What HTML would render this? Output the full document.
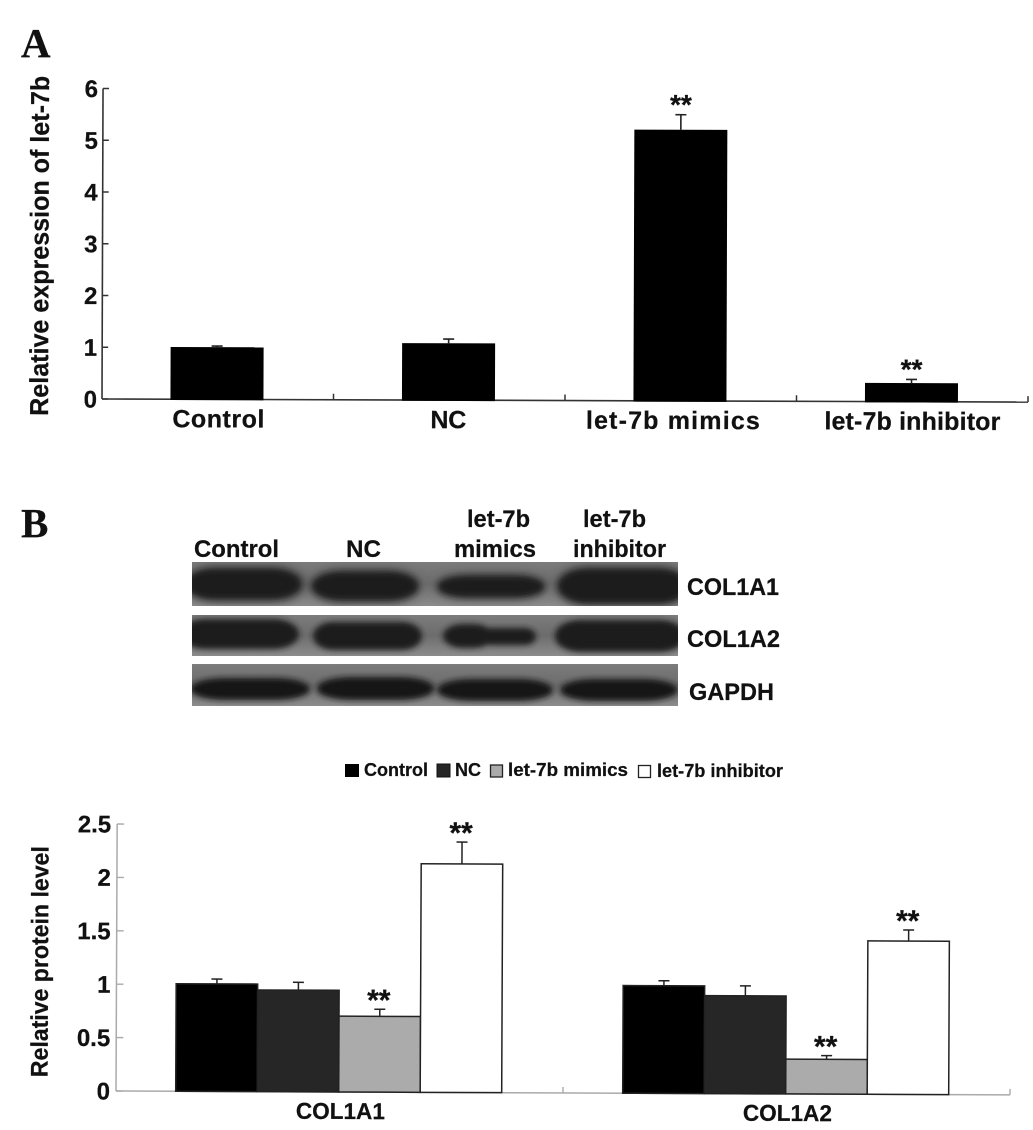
<!DOCTYPE html>
<html lang="en">
<head>
<meta charset="utf-8">
<title>let-7b expression and collagen protein levels</title>
<style>
html,body{margin:0;padding:0;background:#fff;}
svg{display:block;}
text{font-family:"Liberation Sans",Arial,sans-serif;font-weight:bold;fill:#111;stroke:#111;stroke-width:.25px;}
.serif{font-family:"Liberation Serif","Times New Roman",serif;}
</style>
</head>
<body>
<svg id="fig" xmlns="http://www.w3.org/2000/svg" width="1033" height="1130" viewBox="0 0 1033 1130">
  <defs>
    <filter id="blur" x="-10%" y="-40%" width="120%" height="180%"><feGaussianBlur stdDeviation="3"/></filter>
    <filter id="halo" x="-10%" y="-40%" width="120%" height="180%"><feGaussianBlur stdDeviation="5"/></filter>
    <linearGradient id="panelGrad" x1="0" y1="0" x2="0" y2="1">
      <stop offset="0" stop-color="#7c7c7c"/><stop offset="0.5" stop-color="#6c6c6c"/><stop offset="1" stop-color="#8c8c8c"/>
    </linearGradient>
    <clipPath id="clip1"><rect x="192" y="562" width="486" height="44"/></clipPath>
    <clipPath id="clip2"><rect x="192" y="615" width="486" height="41"/></clipPath>
    <clipPath id="clip3"><rect x="192" y="664" width="486" height="42"/></clipPath>
  </defs>

  <text class="serif" x="21" y="57" font-size="41">A</text>
  <text class="serif" x="21" y="537" font-size="41">B</text>

  <g id="chartA" transform="rotate(0.19 102 399)"></g>

  <g>
    <text x="194" y="557" font-size="24" textLength="85" lengthAdjust="spacingAndGlyphs">Control</text>
    <text x="346" y="557" font-size="24" textLength="35" lengthAdjust="spacingAndGlyphs">NC</text>
    <text x="467" y="527" font-size="24" textLength="63" lengthAdjust="spacingAndGlyphs">let-7b</text>
    <text x="454" y="557" font-size="24" textLength="82" lengthAdjust="spacingAndGlyphs">mimics</text>
    <text x="583" y="527" font-size="24" textLength="63" lengthAdjust="spacingAndGlyphs">let-7b</text>
    <text x="573" y="557" font-size="24" textLength="93" lengthAdjust="spacingAndGlyphs">inhibitor</text>

    <g>
      <rect x="192" y="562" width="486" height="44" fill="url(#panelGrad)"/>
      <g clip-path="url(#clip1)">
        <g filter="url(#halo)" fill="#4a4a4a">
          <rect x="185" y="566" width="120" height="36" rx="30" ry="18"/>
          <rect x="310" y="569" width="110" height="34" rx="30" ry="17"/>
          <rect x="436" y="574" width="110" height="25" rx="30" ry="12"/>
          <rect x="556" y="566" width="134" height="40" rx="30" ry="20"/>
        </g>
        <g filter="url(#blur)" fill="#1a1a1a">
          <rect x="185" y="569" width="116" height="30" rx="30" ry="15"/>
          <rect x="312" y="572" width="106" height="28" rx="30" ry="14"/>
          <rect x="438" y="576" width="106" height="21" rx="30" ry="10"/>
          <rect x="558" y="569" width="130" height="34" rx="30" ry="17"/>
        </g>
      </g>
    </g>
    <g>
      <rect x="192" y="615" width="486" height="41" fill="url(#panelGrad)"/>
      <g clip-path="url(#clip2)">
        <g filter="url(#blur)" fill="#1a1a1a">
          <rect x="180" y="619" width="119" height="30" rx="26" ry="15"/>
          <rect x="313" y="622" width="109" height="28" rx="20" ry="14"/>
          <rect x="443" y="624" width="50" height="24" rx="20" ry="12"/>
          <rect x="480" y="628" width="56" height="17" rx="12" ry="8"/>
          <rect x="555" y="620" width="130" height="32" rx="26" ry="15"/>
        </g>
      </g>
    </g>
    <g>
      <rect x="192" y="664" width="486" height="42" fill="url(#panelGrad)"/>
      <g clip-path="url(#clip3)"><g filter="url(#blur)" fill="#151515">
        <rect x="190" y="678" width="120" height="22" rx="34" ry="11"/>
        <rect x="317" y="677" width="117" height="23" rx="34" ry="11"/>
        <rect x="437" y="679" width="116" height="22" rx="34" ry="11"/>
        <rect x="560" y="679" width="118" height="22" rx="34" ry="11"/>
      </g></g>
    </g>
    <text x="687" y="595" font-size="24" textLength="92" lengthAdjust="spacingAndGlyphs">COL1A1</text>
    <text x="687" y="647" font-size="24" textLength="93" lengthAdjust="spacingAndGlyphs">COL1A2</text>
    <text x="689" y="700" font-size="24" textLength="85" lengthAdjust="spacingAndGlyphs">GAPDH</text>
  </g>

  <g>
    <rect x="345" y="764" width="14" height="13" fill="#000"/>
    <text x="364" y="776" font-size="18" textLength="64" lengthAdjust="spacingAndGlyphs">Control</text>
    <rect x="437" y="764" width="13" height="13" fill="#262626" stroke="#111"/>
    <text x="455" y="776" font-size="18" textLength="26" lengthAdjust="spacingAndGlyphs">NC</text>
    <rect x="490.5" y="765" width="12" height="12" fill="#ababab" stroke="#222" stroke-width="1.3"/>
    <text x="508" y="776" font-size="18" textLength="120" lengthAdjust="spacingAndGlyphs">let-7b mimics</text>
    <rect x="638.5" y="765.5" width="12" height="12" fill="#fff" stroke="#222" stroke-width="1.3"/>
    <text x="657" y="777" font-size="18" textLength="126" lengthAdjust="spacingAndGlyphs">let-7b inhibitor</text>
  </g>

  <g id="chartB" transform="rotate(0.25 116 1091)"></g>
</svg>

<script>
// Chart A data
const aCategories = ['Control', 'NC', 'let-7b mimics', 'let-7b inhibitor'];
const aValues = [1.01, 1.10, 5.24, 0.36];
const aErrors = [0.02, 0.08, 0.29, 0.07];
const aSignificant = [false, false, true, true];
const aTicks = [0, 1, 2, 3, 4, 5, 6];

// Chart B data
const bGroups = ['COL1A1', 'COL1A2'];
const bSeries = ['Control', 'NC', 'let-7b mimics', 'let-7b inhibitor'];
const bControl = [1.007, 1.008];
const bNC = [0.952, 0.917];
const bMimics = [0.71, 0.326];
const bInhibitor = [2.14, 1.436];
const bControlErr = [0.045, 0.047];
const bNCErr = [0.073, 0.093];
const bMimicsErr = [0.066, 0.034];
const bInhibitorErr = [0.205, 0.104];
const bSignificant = [false, false, true, true];
const bTicks = ['0', '0.5', '1', '1.5', '2', '2.5'];

const NS = 'http://www.w3.org/2000/svg';
function mk(parent, tag, attrs, txt) {
  const el = document.createElementNS(NS, tag);
  for (const k in attrs) el.setAttribute(k, attrs[k]);
  if (txt !== undefined) el.textContent = txt;
  parent.appendChild(el);
  return el;
}
function slug(s) { return s.toLowerCase().replace(/[^a-z0-9]+/g, '-'); }

/* ---------- Chart A ---------- */
const gA = document.getElementById('chartA');
const aX0 = 102, aX1 = 1028, aY0 = 399, aUnit = 51.75;
const aBand = (aX1 - aX0) / aCategories.length;
const aBarW = 93;
const ayScale = v => aY0 - v * aUnit;
const axCenter = i => aX0 + aBand * (i + 0.5) - 0.8;
const aAxisColor = '#333';

aTicks.forEach(t => {
  const tick = mk(gA, 'line', {x1: aX0, x2: aX0 + 6, y1: ayScale(t), y2: ayScale(t), stroke: aAxisColor, 'stroke-width': 1.5});
  
  
  const lab = mk(gA, 'text', {x: aX0 - 5, y: ayScale(t) + 8.5, 'text-anchor': 'end', 'font-size': 24}, String(t));
  
  
});
const aYAxis = mk(gA, 'line', {x1: aX0, x2: aX0, y1: ayScale(6), y2: aY0, stroke: aAxisColor, 'stroke-width': 1.6});


const aXAxis = mk(gA, 'line', {x1: aX0, x2: aX1, y1: aY0, y2: aY0, stroke: aAxisColor, 'stroke-width': 1.6});


for (let i = 1; i <= aCategories.length; i++) {
  const tx = aX0 + aBand * i;
  const tick = mk(gA, 'line', {x1: tx, x2: tx, y1: aY0, y2: aY0 - 6, stroke: aAxisColor, 'stroke-width': 1.5});
  
  
}
const aLabelWidths = [92, 36, 174, 176];
const aLabelShift = [1.5, 0, -7, 1];
aCategories.forEach((c, i) => {
  const cx = axCenter(i), top = ayScale(aValues[i]), errTop = ayScale(aValues[i] + aErrors[i]);
  const stem = mk(gA, 'line', {x1: cx, x2: cx, y1: top, y2: errTop, stroke: '#222', 'stroke-width': 1.6});
  
  
  const cap = mk(gA, 'line', {x1: cx - 5.5, x2: cx + 5.5, y1: errTop, y2: errTop, stroke: '#222', 'stroke-width': 1.6});
  
  
  const bar = mk(gA, 'rect', {x: cx - aBarW / 2, y: top, width: aBarW, height: aY0 - top + 0.8, fill: '#000'});
  
  
  if (aSignificant[i]) {
    const s = mk(gA, 'text', {x: cx, y: errTop - 0.5, 'text-anchor': 'middle', 'font-size': 28}, '**');
    
    
  }
  const lab = mk(gA, 'text', {x: cx + aLabelShift[i], y: 427, 'text-anchor': 'middle', 'font-size': 25, textLength: aLabelWidths[i], lengthAdjust: 'spacing'}, c);
  
  
});
const aTitle = mk(gA, 'text', {transform: 'translate(48 246) rotate(-90)', 'text-anchor': 'middle', 'font-size': 26, textLength: 340, lengthAdjust: 'spacingAndGlyphs'}, 'Relative expression of let-7b');



/* ---------- Chart B ---------- */
const gB = document.getElementById('chartB');
const bX0 = 116, bX1 = 1010, bY0 = 1091, bUnit = 106.8;
const bBand = (bX1 - bX0) / bGroups.length;
const bBarW = 81.5;
const byScale = v => bY0 - v * bUnit;
const bxBar = (g, s) => bX0 + bBand * (g + 0.5) - 2 * bBarW + s * bBarW - 0.8;
const bAxisColor = '#aaa';
const bValues = [bControl, bNC, bMimics, bInhibitor];
const bErrs = [bControlErr, bNCErr, bMimicsErr, bInhibitorErr];
const bFills = ['#000', '#262626', '#ababab', '#fff'];

bTicks.forEach(t => {
  const v = parseFloat(t);
  const tick = mk(gB, 'line', {x1: bX0, x2: bX0 + 7, y1: byScale(v), y2: byScale(v), stroke: bAxisColor, 'stroke-width': 1.4});
  
  
  const lab = mk(gB, 'text', {x: bX0 - 6, y: byScale(v) + 8.5, 'text-anchor': 'end', 'font-size': 24}, t);
  
  
});
const bYAxis = mk(gB, 'line', {x1: bX0, x2: bX0, y1: byScale(2.5), y2: bY0, stroke: bAxisColor, 'stroke-width': 1.5});


const bXAxis = mk(gB, 'line', {x1: bX0, x2: bX1, y1: bY0, y2: bY0, stroke: bAxisColor, 'stroke-width': 1.5});


for (let i = 1; i <= bGroups.length; i++) {
  const tx = bX0 + bBand * i;
  const tick = mk(gB, 'line', {x1: tx, x2: tx, y1: bY0, y2: bY0 - 6, stroke: bAxisColor, 'stroke-width': 1.4});
  
  
}
bGroups.forEach((grp, g) => {
  bSeries.forEach((ser, s) => {
    const x = bxBar(g, s), cx = x + bBarW / 2;
    const top = byScale(bValues[s][g]), errTop = byScale(bValues[s][g] + bErrs[s][g]);
    const stem = mk(gB, 'line', {x1: cx, x2: cx, y1: top, y2: errTop, stroke: '#222', 'stroke-width': 1.5});
    
    
    const cap = mk(gB, 'line', {x1: cx - 5.5, x2: cx + 5.5, y1: errTop, y2: errTop, stroke: '#222', 'stroke-width': 1.5});
    
    
    const bar = mk(gB, 'rect', {x: x, y: top, width: bBarW, height: bY0 - top, fill: bFills[s], stroke: '#222', 'stroke-width': 1.5});
    
    
    if (bSignificant[s]) {
      const st = mk(gB, 'text', {x: cx - 1, y: errTop + 1, 'text-anchor': 'middle', 'font-size': 30}, '**');
      
      
    }
  });
  const lab = mk(gB, 'text', {x: bX0 + bBand * (g + 0.5) + 1, y: 1118, 'text-anchor': 'middle', 'font-size': 23, textLength: 89, lengthAdjust: 'spacingAndGlyphs'}, grp);
  
  
});
const bTitle = mk(gB, 'text', {transform: 'translate(47.5 962) rotate(-90)', 'text-anchor': 'middle', 'font-size': 24, textLength: 231, lengthAdjust: 'spacingAndGlyphs'}, 'Relative protein level');


</script>
</body>
</html>
